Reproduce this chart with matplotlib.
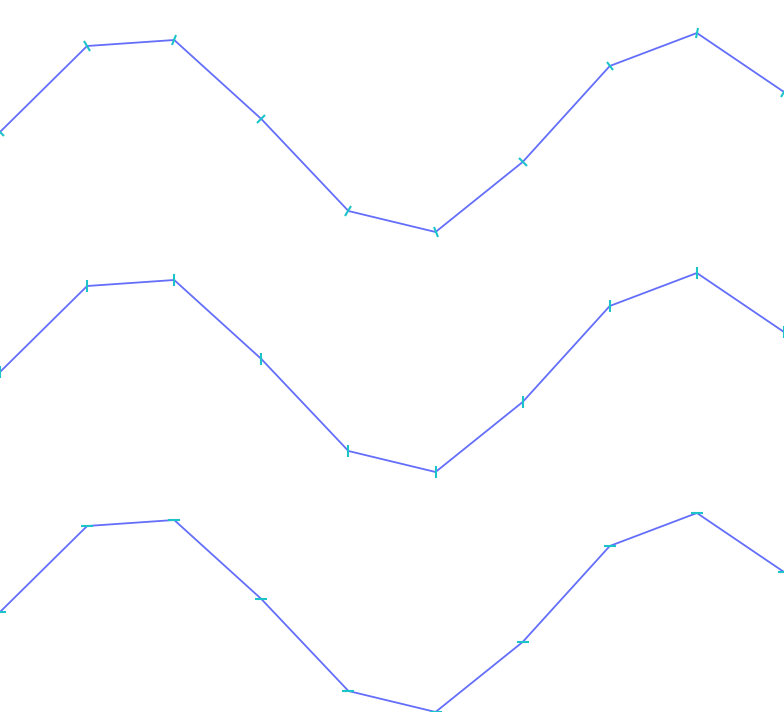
import numpy as np
import matplotlib
matplotlib.use("Agg")
import matplotlib.pyplot as plt
from matplotlib.markers import MarkerStyle
from matplotlib.transforms import Affine2D

# same series drawn three times, stacked, with different marker styles
x = [0, 1, 2, 3, 4, 5, 6, 7, 8, 9]
values = [5.0, 9.3, 9.6, 5.65, 1.05, 0.0, 3.5, 8.3, 9.95, 7.0]
offsets = [24, 12, 0]
marker_kinds = ["rotated", "|", "_"]

line_color = "#636efa"
marker_color = "#1cc3c9"

fig = plt.figure(figsize=(7.84, 7.12), dpi=100)
ax = fig.add_axes([0, 0, 1, 1])
ax.set_xlim(0, 9)
ax.set_ylim(0, 35.6)
ax.axis("off")

for offset, kind in zip(offsets, marker_kinds):
    y = [v + offset for v in values]
    ax.plot(x, y, color=line_color, lw=1.3, zorder=2)

    if kind != "rotated":
        ax.plot(x, y, ls="none", marker=kind, ms=8, mew=1.5,
                color=marker_color, zorder=3)
        continue

    # markers rotated perpendicular to the path direction (display space)
    pts = ax.transData.transform(np.column_stack([x, y]))
    for i in range(len(x)):
        a = pts[max(i - 1, 0)]
        b = pts[min(i + 1, len(x) - 1)]
        ang = np.degrees(np.arctan2(b[1] - a[1], b[0] - a[0]))
        m = MarkerStyle("|", transform=Affine2D().rotate_deg(ang))
        ax.plot([x[i]], [y[i]], ls="none", marker=m, ms=8, mew=1.5,
                color=marker_color, zorder=3)

fig.savefig("out.png", dpi=100)
